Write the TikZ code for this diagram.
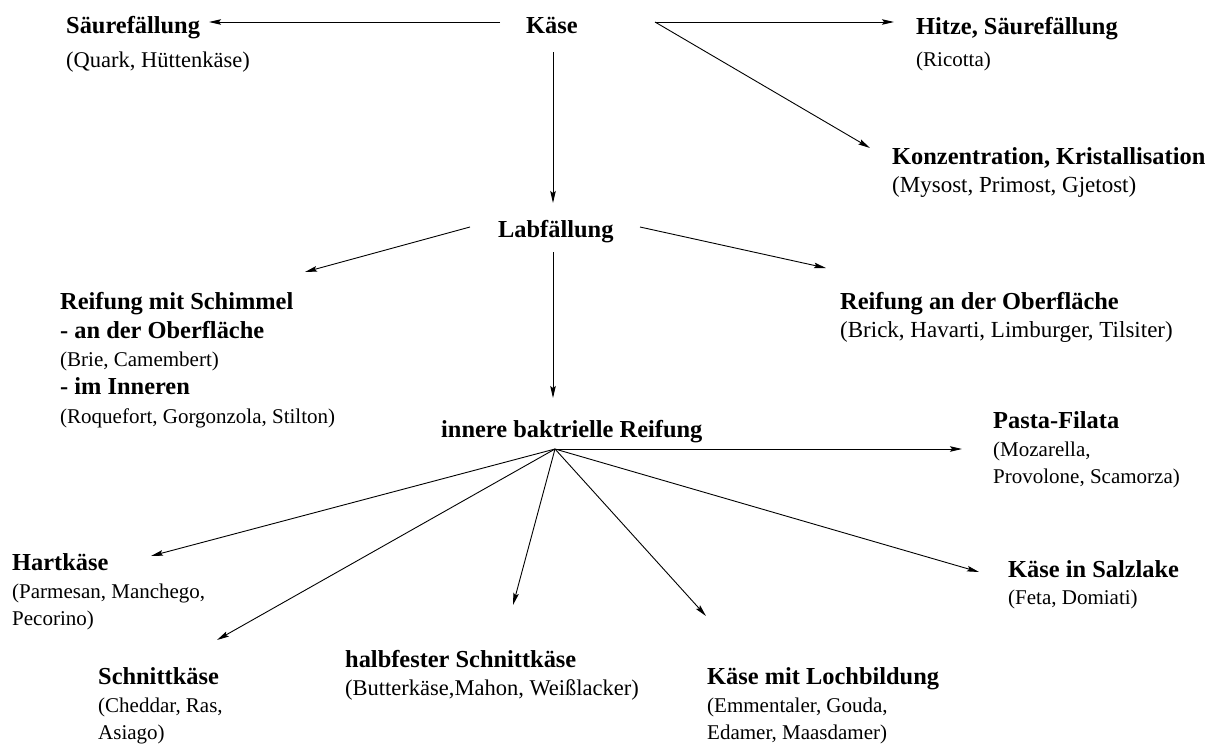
\documentclass[tikz,border=0pt]{standalone}
\usepackage{fontspec}
\setmainfont{Liberation Serif}
\usetikzlibrary{arrows.meta}

\newcommand\TitleFont{\fontsize{24.4}{29}\selectfont\bfseries}
\newcommand\SubFont{\fontsize{21}{26}\selectfont}
\newcommand\SubFontL{\fontsize{22.5}{27}\selectfont}
\newcommand\SubFontXL{\fontsize{23}{28}\selectfont}

\tikzset{
  title/.style={font=\TitleFont, anchor=base west, inner sep=0pt},
  sub/.style={font=\SubFont, anchor=base west, inner sep=0pt},
  subL/.style={sub, font=\SubFontL},
  subXL/.style={sub, font=\SubFontXL},
  arr/.style={line width=0.9pt, -{Stealth[length=12pt,width=5.5pt,inset=2pt]}},
}

\begin{document}
\begin{tikzpicture}[x=1pt,y=-1pt]
\fill[white] (0,0) rectangle (1215,747);
\useasboundingbox (0,0) rectangle (1215,747);

% top row
\node[title] (kaese)  at (526,33) {Käse};
\node[title] (saeure) at (66,33)  {Säurefällung};
\node[subL]  (saeure1) at (66,67) {(Quark, Hüttenkäse)};
\node[title] (hitze)  at (916,34) {Hitze, Säurefällung};
\node[sub]   (hitze1) at (916,66) {(Ricotta)};
\node[title] (konz)   at (892,164) {Konzentration, Kristallisation};
\node[subXL] (konz1)  at (892,192) {(Mysost, Primost, Gjetost)};

% rennet coagulation
\node[title] (lab)    at (498,237) {Labfällung};
\node[title] (schimmel)  at (60,309) {Reifung mit Schimmel};
\node[title] (schimmel1) at (60,338) {- an der Oberfläche};
\node[sub]   (schimmel2) at (60,366) {(Brie, Camembert)};
\node[title] (schimmel3) at (60,394) {- im Inneren};
\node[sub]   (schimmel4) at (60,423) {(Roquefort, Gorgonzola, Stilton)};
\node[title] (oberfl)  at (840,309) {Reifung an der Oberfläche};
\node[subXL] (oberfl1) at (840,337) {(Brick, Havarti, Limburger, Tilsiter)};

% internal bacterial ripening
\node[title] (inner)  at (441,437) {innere baktrielle Reifung};
\node[title] (pasta)  at (993,428) {Pasta-Filata};
\node[sub]   (pasta1) at (993,456) {(Mozarella,};
\node[sub]   (pasta2) at (993,483) {Provolone, Scamorza)};
\node[title] (hart)   at (12,570) {Hartkäse};
\node[sub]   (hart1)  at (12,598) {(Parmesan, Manchego,};
\node[sub]   (hart2)  at (12,625) {Pecorino)};
\node[title] (schnitt)  at (98,684) {Schnittkäse};
\node[sub]   (schnitt1) at (98,712) {(Cheddar, Ras,};
\node[sub]   (schnitt2) at (98,739) {Asiago)};
\node[title] (halb)   at (345,667) {halbfester Schnittkäse};
\node[subL]  (halb1)  at (345,695) {(Butterkäse,Mahon, Weißlacker)};
\node[title] (loch)   at (707,684) {Käse mit Lochbildung};
\node[sub]   (loch1)  at (707,712) {(Emmentaler, Gouda,};
\node[sub]   (loch2)  at (707,739) {Edamer, Maasdamer)};
\node[title] (salz)   at (1008,577) {Käse in Salzlake};
\node[sub]   (salz1)  at (1008,604) {(Feta, Domiati)};

\coordinate (fan) at ([shift={(114,12)}]inner.base west);

% connectors
\draw[arr] ([shift={(-26,-11)}]kaese.base west) -- ([shift={(143,-11)}]saeure.base west);
\draw[arr] ([shift={(129,-11)}]kaese.base west) -- ([shift={(-22,-12)}]hitze.base west);
\draw[arr] ([shift={(129,-11)}]kaese.base west) -- ([shift={(-22,-16)}]konz.base west);
\draw[arr] ([shift={(27,19)}]kaese.base west) -- ([shift={(55,-34)}]lab.base west);
\draw[arr] ([shift={(-28,-10)}]lab.base west) -- ([shift={(245,-37)}]schimmel.base west);
\draw[arr] ([shift={(142,-10)}]lab.base west) -- ([shift={(-14,-41)}]oberfl.base west);
\draw[arr] ([shift={(55,15)}]lab.base west) -- ([shift={(112,-39)}]inner.base west);
\draw[arr] (fan) -- ([shift={(-31,21)}]pasta.base west);
\draw[arr] (fan) -- ([shift={(139,-14)}]hart.base west);
\draw[arr] (fan) -- ([shift={(119,-44)}]schnitt.base west);
\draw[arr] (fan) -- ([shift={(168,-62)}]halb.base west);
\draw[arr] (fan) -- ([shift={(-1,-68)}]loch.base west);
\draw[arr] (fan) -- ([shift={(-29,-5)}]salz.base west);
\end{tikzpicture}
\end{document}
